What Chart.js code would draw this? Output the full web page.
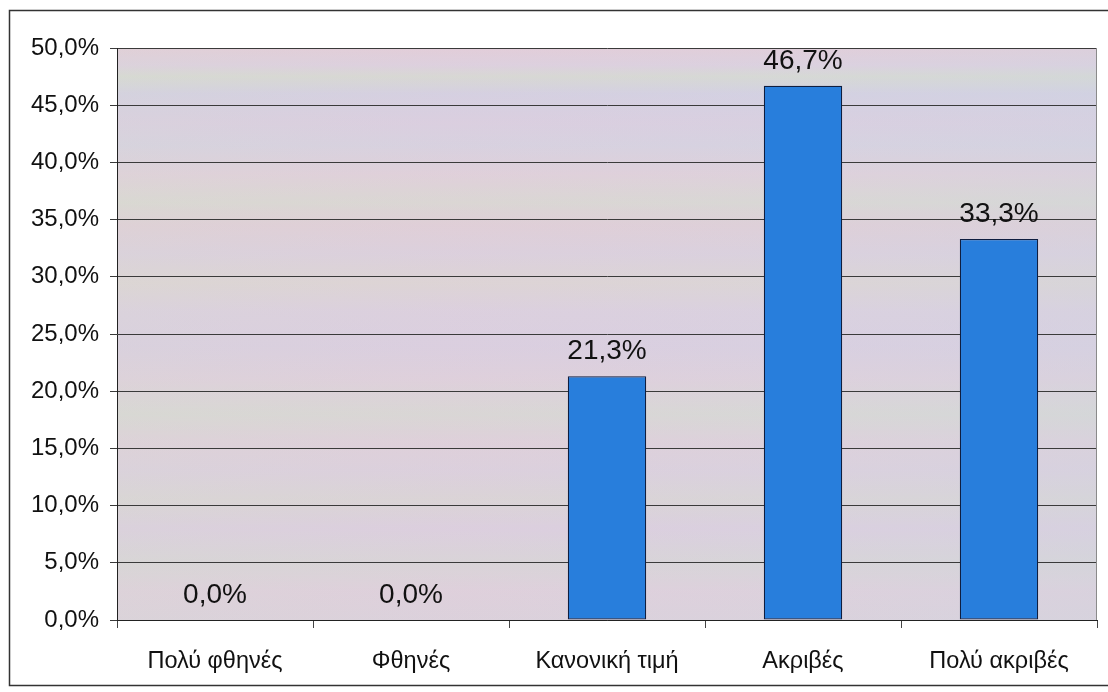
<!DOCTYPE html>
<html lang="el">
<head>
<meta charset="utf-8">
<title>Αντίληψη τιμής</title>
<script src="https://cdn.jsdelivr.net/npm/chart.js@4/dist/chart.umd.min.js"></script>
<style>
  html, body { margin: 0; padding: 0; background: #ffffff; }
  canvas { display: block; }
</style>
</head>
<body>
<canvas id="priceChart" width="1108" height="692"></canvas>
<script>
// Price perception categories and the share of answers for each (in %)
const categories = ['Πολύ φθηνές', 'Φθηνές', 'Κανονική τιμή', 'Ακριβές', 'Πολύ ακριβές'];
const shares = [0.0, 0.0, 21.3, 46.7, 33.3];

// Value axis range and step
const axisMin = 0;
const axisMax = 50;
const axisStep = 5;

const FONT = '"Liberation Sans", Arial, Helvetica, sans-serif';

// Percent with a decimal comma, e.g. 21,3%
function pct(v) {
  return v.toFixed(1).replace('.', ',') + '%';
}

// Pastel, softly banded backdrop behind the plot area plus the outer frame
const backdrop = {
  id: 'backdrop',
  beforeDraw(chart) {
    const { ctx, chartArea: a } = chart;
    const h = a.bottom - a.top;
    ctx.save();
    ctx.fillStyle = 'rgb(219,209,222)';
    ctx.fillRect(a.left, a.top, a.right - a.left, h);

    const v = ctx.createLinearGradient(0, a.top, 0, a.bottom);
    const bands = [
      [0.00, 'rgba(228,204,216,0.8)'],
      [0.03, 'rgba(220,208,224,0.8)'],
      [0.05, 'rgba(212,220,208,0.8)'],
      [0.08, 'rgba(208,208,228,0.8)'],
      [0.13, 'rgba(216,206,226,0.8)'],
      [0.17, 'rgba(212,210,226,0.8)'],
      [0.22, 'rgba(224,208,218,0.8)'],
      [0.27, 'rgba(216,218,208,0.8)'],
      [0.31, 'rgba(224,206,214,0.8)'],
      [0.36, 'rgba(218,208,222,0.8)'],
      [0.41, 'rgba(220,214,210,0.8)'],
      [0.46, 'rgba(218,208,224,0.8)'],
      [0.52, 'rgba(216,206,226,0.8)'],
      [0.58, 'rgba(222,208,220,0.8)'],
      [0.64, 'rgba(214,218,210,0.8)'],
      [0.69, 'rgba(222,208,218,0.8)'],
      [0.74, 'rgba(218,208,222,0.8)'],
      [0.79, 'rgba(216,214,212,0.8)'],
      [0.84, 'rgba(218,206,224,0.8)'],
      [0.90, 'rgba(214,214,214,0.8)'],
      [0.95, 'rgba(222,208,220,0.8)'],
      [1.00, 'rgba(218,210,220,0.8)']
    ];
    bands.forEach(([p, c]) => v.addColorStop(p, c));
    ctx.fillStyle = v;
    ctx.fillRect(a.left, a.top, a.right - a.left, h);

    const g = ctx.createLinearGradient(a.left, 0, a.right, 0);
    g.addColorStop(0.00, 'rgba(218,216,208,0.25)');
    g.addColorStop(0.35, 'rgba(226,206,216,0.20)');
    g.addColorStop(0.70, 'rgba(216,212,222,0.20)');
    g.addColorStop(1.00, 'rgba(208,212,224,0.35)');
    ctx.fillStyle = g;
    ctx.fillRect(a.left, a.top, a.right - a.left, h);

    // outer frame
    ctx.strokeStyle = '#333';
    ctx.lineWidth = 1.5;
    ctx.strokeRect(9.5, 10.5, chart.width + 20, 675);
    ctx.restore();
  },
  afterDraw(chart) {
    const { ctx, chartArea: a } = chart;
    ctx.save();
    ctx.strokeStyle = '#8a8a8a';
    ctx.lineWidth = 1;
    ctx.beginPath();
    ctx.moveTo(a.right - 0.5, a.top);
    ctx.lineTo(a.right - 0.5, a.bottom);
    ctx.stroke();
    ctx.restore();
  }
};

// Percentage written above each bar
const valueLabels = {
  id: 'valueLabels',
  afterDatasetsDraw(chart) {
    const { ctx } = chart;
    const meta = chart.getDatasetMeta(0);
    ctx.save();
    ctx.font = '28px ' + FONT;
    ctx.fillStyle = '#111';
    ctx.textAlign = 'center';
    ctx.textBaseline = 'alphabetic';
    meta.data.forEach((bar, i) => {
      ctx.fillText(pct(shares[i]), bar.x, bar.y - 17);
    });
    ctx.restore();
  }
};

new Chart(document.getElementById('priceChart'), {
  type: 'bar',
  data: {
    labels: categories,
    datasets: [{
      data: shares,
      backgroundColor: 'rgb(40,126,220)',
      borderColor: '#0f1e40',
      borderWidth: 1.2,
      borderSkipped: false,
      barPercentage: 0.8,
      categoryPercentage: 0.5
    }]
  },
  options: {
    responsive: false,
    animation: false,
    layout: { padding: { top: 48, right: 11, left: 0, bottom: 0 } },
    plugins: {
      legend: { display: false },
      tooltip: { enabled: false }
    },
    scales: {
      y: {
        min: axisMin,
        max: axisMax,
        ticks: {
          stepSize: axisStep,
          callback: (v) => pct(v),
          font: { family: FONT, size: 24 },
          color: '#111',
          padding: 11
        },
        grid: {
          color: '#3a3a3a',
          lineWidth: 1,
          tickLength: 7,
          tickColor: '#3a3a3a'
        },
        border: { color: '#222', width: 1 },
        afterFit(scale) { scale.width = 117; }
      },
      x: {
        offset: true,
        ticks: {
          font: { family: FONT, size: 23.5 },
          color: '#111',
          padding: 19
        },
        grid: {
          offset: true,
          drawOnChartArea: false,
          drawTicks: true,
          tickLength: 8,
          tickColor: '#444'
        },
        border: { color: '#222', width: 1 },
        afterFit(scale) { scale.height = 72; }
      }
    }
  },
  plugins: [backdrop, valueLabels]
});
</script>
</body>
</html>
